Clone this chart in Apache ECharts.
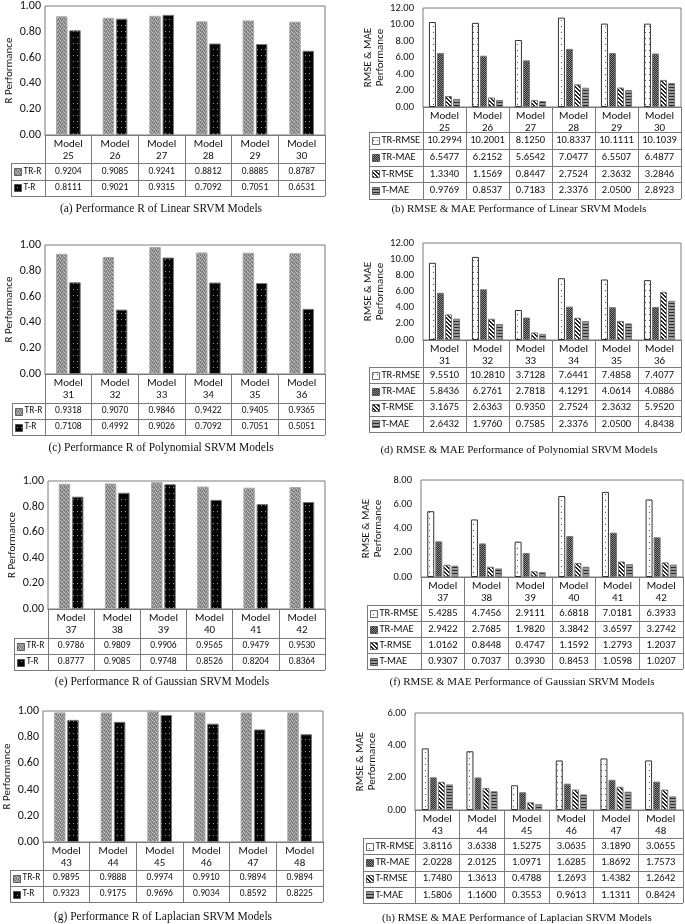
<!DOCTYPE html>
<html><head><meta charset="utf-8">
<script src="https://cdn.jsdelivr.net/npm/echarts@6/dist/echarts.min.js"></script>
<style>html,body{margin:0;padding:0;background:#fff}#c{width:685px;height:924px}</style>
</head><body><div id="c"></div>
<script>
// ---------- DATA ----------
const modelsA = ['25','26','27','28','29','30'];
const modelsC = ['31','32','33','34','35','36'];
const modelsE = ['37','38','39','40','41','42'];
const modelsG = ['43','44','45','46','47','48'];

const trR_A = [0.9204,0.9085,0.9241,0.8812,0.8885,0.8787];
const tR_A  = [0.8111,0.9021,0.9315,0.7092,0.7051,0.6531];
const trRmse_B = [10.2994,10.2001,8.1250,10.8337,10.1111,10.1039];
const trMae_B  = [6.5477,6.2152,5.6542,7.0477,6.5507,6.4877];
const tRmse_B  = [1.3340,1.1569,0.8447,2.7524,2.3632,3.2846];
const tMae_B   = [0.9769,0.8537,0.7183,2.3376,2.0500,2.8923];

const trR_C = [0.9318,0.9070,0.9846,0.9422,0.9405,0.9365];
const tR_C  = [0.7108,0.4992,0.9026,0.7092,0.7051,0.5051];
const trRmse_D = [9.5510,10.2810,3.7128,7.6441,7.4858,7.4077];
const trMae_D  = [5.8436,6.2761,2.7818,4.1291,4.0614,4.0886];
const tRmse_D  = [3.1675,2.6363,0.9350,2.7524,2.3632,5.9520];
const tMae_D   = [2.6432,1.9760,0.7585,2.3376,2.0500,4.8438];

const trR_E = [0.9786,0.9809,0.9906,0.9565,0.9479,0.9530];
const tR_E  = [0.8777,0.9085,0.9748,0.8526,0.8204,0.8364];
const trRmse_F = [5.4285,4.7456,2.9111,6.6818,7.0181,6.3933];
const trMae_F  = [2.9422,2.7685,1.9820,3.3842,3.6597,3.2742];
const tRmse_F  = [1.0162,0.8448,0.4747,1.1592,1.2793,1.2037];
const tMae_F   = [0.9307,0.7037,0.3930,0.8453,1.0598,1.0207];

const trR_G = [0.9895,0.9888,0.9974,0.9910,0.9894,0.9894];
const tR_G  = [0.9323,0.9175,0.9696,0.9034,0.8592,0.8225];
const trRmse_H = [3.8116,3.6338,1.5275,3.0635,3.1890,3.0655];
const trMae_H  = [2.0228,2.0125,1.0971,1.6285,1.8692,1.7573];
const tRmse_H  = [1.7480,1.3613,0.4788,1.2693,1.4382,1.2642];
const tMae_H   = [1.5806,1.1600,0.3553,0.9613,1.1311,0.8424];

const captions = [
 '(a) Performance R of Linear SRVM Models',
 '(b) RMSE & MAE Performance of Linear SRVM Models',
 '(c) Performance R of Polynomial SRVM Models',
 '(d) RMSE & MAE Performance of Polynomial SRVM Models',
 '(e) Performance R of Gaussian SRVM Models',
 '(f) RMSE & MAE Performance of Gaussian SRVM Models',
 '(g) Performance R of Laplacian SRVM Models',
 '(h) RMSE & MAE Performance of Laplacian SRVM Models'
];

// ---------- PANEL DEFINITIONS ----------
const panels = [
 {kind:'R', models:modelsA, series:[['TR-R',trR_A],['T-R',tR_A]], max:1, interval:0.2},
 {kind:'E', models:modelsA, series:[['TR-RMSE',trRmse_B],['TR-MAE',trMae_B],['T-RMSE',tRmse_B],['T-MAE',tMae_B]], max:12, interval:2},
 {kind:'R', models:modelsC, series:[['TR-R',trR_C],['T-R',tR_C]], max:1, interval:0.2},
 {kind:'E', models:modelsC, series:[['TR-RMSE',trRmse_D],['TR-MAE',trMae_D],['T-RMSE',tRmse_D],['T-MAE',tMae_D]], max:12, interval:2},
 {kind:'R', models:modelsE, series:[['TR-R',trR_E],['T-R',tR_E]], max:1, interval:0.2},
 {kind:'E', models:modelsE, series:[['TR-RMSE',trRmse_F],['TR-MAE',trMae_F],['T-RMSE',tRmse_F],['T-MAE',tMae_F]], max:8, interval:2},
 {kind:'R', models:modelsG, series:[['TR-R',trR_G],['T-R',tR_G]], max:1, interval:0.2},
 {kind:'E', models:modelsG, series:[['TR-RMSE',trRmse_H],['TR-MAE',trMae_H],['T-RMSE',tRmse_H],['T-MAE',tMae_H]], max:6, interval:2}
];

// ---------- LAYOUT ----------
const layout = [
 {L:45,R:325,T:5,B:135,hb:163,bot:196,lg:11,capX:161,capY:209},
 {L:423,R:681,T:8,B:107,hb:132,bot:199,lg:369,capX:519,capY:209},
 {L:45,R:325,T:245,B:374,hb:403,bot:435,lg:12,capX:161,capY:448},
 {L:423,R:681,T:243,B:340,hb:367,bot:432,lg:369,capX:519,capY:450},
 {L:48,R:325,T:481,B:609,hb:638,bot:670,lg:14,capX:162,capY:682},
 {L:421,R:683,T:480,B:577,hb:605,bot:669,lg:367,capX:522,capY:682},
 {L:43,R:323,T:711,B:842,hb:870,bot:902,lg:10,capX:163,capY:917},
 {L:415,R:683,T:713,B:810,hb:838,bot:903,lg:363,capX:517,capY:918}
];

// ---------- PATTERNS ----------
function pat(w,h,draw){const c=document.createElement('canvas');c.width=w;c.height=h;const g=c.getContext('2d');draw(g);return {image:c,repeat:'repeat'};}
function px(g,col,pts){g.fillStyle=col;pts.forEach(p=>g.fillRect(p[0],p[1],1,1));}
const patterns = {
 'TR-R': pat(4,4,g=>{g.fillStyle='#8a8a8a';g.fillRect(0,0,4,4);px(g,'#c8c8c8',[[0,0],[2,1],[1,2],[3,3]]);px(g,'#6a6a6a',[[2,3],[0,2]]);}),
 'T-R': pat(4,6,g=>{g.fillStyle='#050505';g.fillRect(0,0,4,6);px(g,'#9a9a9a',[[1,1]]);}),
 'TR-RMSE': pat(4,6,g=>{g.fillStyle='#ffffff';g.fillRect(0,0,4,6);px(g,'#555',[[1,2]]);}),
 'TR-MAE': pat(2,2,g=>{g.fillStyle='#2a2a2a';g.fillRect(0,0,2,2);px(g,'#8a8a8a',[[0,0],[1,1]]);}),
 'T-RMSE': pat(4,4,g=>{g.fillStyle='#ffffff';g.fillRect(0,0,4,4);px(g,'#222',[[0,0],[1,1],[2,2],[3,3],[1,0],[2,1],[3,2],[0,3]]);}),
 'T-MAE': pat(1,3,g=>{g.fillStyle='#9a9a9a';g.fillRect(0,0,1,3);px(g,'#2a2a2a',[[0,0]]);})
};
const borders = {'TR-R':'#aaa','T-R':'#777','TR-RMSE':'#333','TR-MAE':'#777','T-RMSE':'#777','T-MAE':'#777'};

const FF = 'Carlito, Lato, sans-serif';
const LINE = '#7a7a7a';

const grid=[], xAxis=[], yAxis=[], series=[], graphic=[];
function hline(x1,x2,y){y=Math.round(y)+0.5;graphic.push({type:'line',silent:true,shape:{x1:x1,y1:y,x2:x2,y2:y},style:{stroke:LINE,lineWidth:1}});}
function vline(x,y1,y2){x=Math.round(x)+0.5;graphic.push({type:'line',silent:true,shape:{x1:x,y1:y1,x2:x,y2:y2},style:{stroke:LINE,lineWidth:1}});}
function txt(x,y,s,font,align){graphic.push({type:'text',silent:true,x:x,y:y,style:{text:s,font:font,fill:'#111',align:align||'center',verticalAlign:'middle',textAlign:align||'center',textVerticalAlign:'middle'}});}

panels.forEach((p,i)=>{
 const l=layout[i];
 const isR = p.kind==='R';
 grid.push({left:l.L,top:l.T,width:l.R-l.L,height:l.B-l.T,show:true,borderColor:LINE,borderWidth:1,backgroundColor:'transparent'});
 xAxis.push({type:'category',gridIndex:i,data:p.models.map(m=>'Model\n'+m),
   axisLine:{show:true,lineStyle:{color:LINE}},
   axisTick:{show:true,interval:0,length:l.bot-l.B,lineStyle:{color:LINE}},
   axisLabel:{interval:0,margin:3,fontFamily:FF,fontSize:11,lineHeight:12,color:'#111'}});
 yAxis.push({type:'value',gridIndex:i,min:0,max:p.max,interval:p.interval,
   name:isR?'R Performance':'RMSE & MAE\nPerformance',nameLocation:'middle',nameRotate:90,
   nameGap:isR?30:37,nameTextStyle:{fontFamily:FF,fontSize:11,color:'#111',lineHeight:12},
   axisLine:{show:false},axisTick:{show:false},splitLine:{show:false},
   axisLabel:{margin:isR?4:9,fontFamily:FF,fontSize:isR?12:10.5,color:'#111',formatter:v=>v.toFixed(2)}});
 p.series.forEach(([name,data])=>{
   series.push({type:'bar',name:name,xAxisIndex:i,yAxisIndex:i,data:data,
     barWidth:isR?11.5:7,barGap:'15%',
     itemStyle:{color:patterns[name],borderColor:borders[name],borderWidth:1}});
 });
 // table
 const nr=p.series.length, rh=(l.bot-l.hb)/nr, cw=(l.R-l.L)/p.models.length;
 for(let r=0;r<=nr;r++) hline(l.lg,l.R,l.hb+r*rh);
 vline(l.lg,l.hb,l.bot);
 const vf = isR? ('9.5px '+FF) : ('10.5px '+FF);
 const lf = isR? ('9.5px '+FF) : ('10.5px '+FF);
 p.series.forEach(([name,data],r)=>{
   const cy=l.hb+(r+0.5)*rh;
   graphic.push({type:'rect',silent:true,shape:{x:l.lg+3.5,y:Math.round(cy-3.5)+0.5,width:7,height:7},style:{fill:patterns[name],stroke:'#444',lineWidth:0.8}});
   txt(l.lg+12.5,cy,name,lf,'left');
   data.forEach((v,k)=>txt(l.L+(k+0.5)*cw,cy,v.toFixed(4),vf,'center'));
 });
 txt(l.capX,l.capY,captions[i],(isR?'11.5px':'11px')+' "Liberation Serif", "Times New Roman", serif','center');
});

const chart = echarts.init(document.getElementById('c'),null,{renderer:'canvas'});
chart.setOption({animation:false,grid,xAxis,yAxis,series,graphic});
</script>
</body></html>
